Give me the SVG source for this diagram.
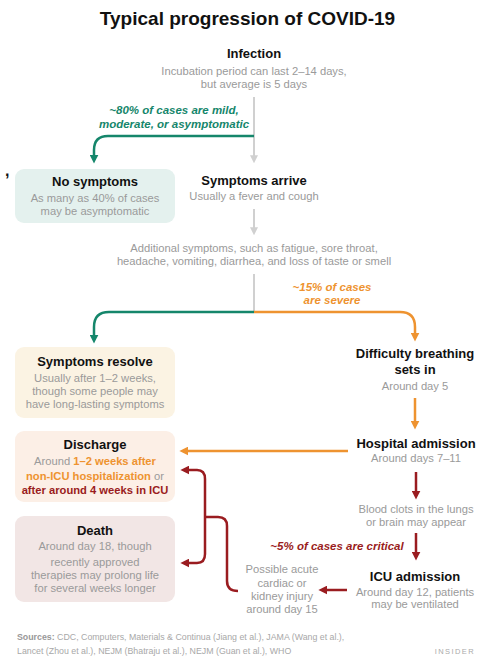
<svg xmlns="http://www.w3.org/2000/svg" width="477" height="656" viewBox="0 0 477 656">
<style>
text{font-family:"Liberation Sans",Arial,sans-serif}
.t{font-size:19px;font-weight:bold;fill:#111;text-anchor:middle}
.h{font-size:13px;font-weight:bold;fill:#111;text-anchor:middle}
.s{font-size:11.2px;fill:#9a9a9a;text-anchor:middle}
.lab{font-size:11.5px;font-weight:bold;font-style:italic;text-anchor:middle}
.src{font-size:8.8px;fill:#a8a8a8}
.g{fill:#15866b}.o{fill:#ee9330}.r{fill:#9a1c20}
.ln{fill:none;stroke-width:2.5}
.gy{stroke:#d0d0d0;stroke-width:2}
.gs{stroke:#15866b}.os{stroke:#ee9330}.rs{stroke:#9a1c20}
</style>
<defs>
<marker id="ag" viewBox="0 0 10 10" refX="6" refY="5" markerWidth="9" markerHeight="9" markerUnits="userSpaceOnUse" orient="auto"><path d="M0,0 L10,5 L0,10 z" fill="#15866b"/></marker>
<marker id="ao" viewBox="0 0 10 10" refX="6" refY="5" markerWidth="9" markerHeight="9" markerUnits="userSpaceOnUse" orient="auto"><path d="M0,0 L10,5 L0,10 z" fill="#ee9330"/></marker>
<marker id="ar" viewBox="0 0 10 10" refX="6" refY="5" markerWidth="9" markerHeight="9" markerUnits="userSpaceOnUse" orient="auto"><path d="M0,0 L10,5 L0,10 z" fill="#9a1c20"/></marker>
<marker id="ay" viewBox="0 0 10 10" refX="6" refY="5" markerWidth="8" markerHeight="8" markerUnits="userSpaceOnUse" orient="auto"><path d="M0,0 L10,5 L0,10 z" fill="#d0d0d0"/></marker>
</defs>

<text class="t" x="247.5" y="25">Typical progression of COVID-19</text>
<text x="5" y="176" style="font-size:16px;font-weight:bold;fill:#111">,</text>

<g id="connectors">
<path class="ln gy" d="M254 97 V160" marker-end="url(#ay)"/>
<path class="ln gs" d="M254 136 H108 Q94 136 94 150 V160" marker-end="url(#ag)"/>
<path class="ln gy" d="M254 209 V232" marker-end="url(#ay)"/>
<path class="ln gy" d="M254 274 V312"/>
<path class="ln gs" d="M254 312 H109 Q94 312 94 327 V340" marker-end="url(#ag)"/>
<path class="ln os" d="M254 312 H400 Q415 312 415 327 V338" marker-end="url(#ao)"/>
<path class="ln os" d="M415 398 V426" marker-end="url(#ao)"/>
<path class="ln os" d="M348 451 H183" marker-end="url(#ao)"/>
<path class="ln rs" d="M416 472 V496" marker-end="url(#ar)"/>
<path class="ln rs" d="M416 533 V557" marker-end="url(#ar)"/>
<path class="ln rs" d="M347 590 H322" marker-end="url(#ar)"/>
<path class="ln rs" d="M197 470 Q205 470 205 479 V554 Q205 563 197 563 H184" marker-end="url(#ar)"/>
<path class="ln rs" d="M197 470 H184" marker-end="url(#ar)"/>
<path class="ln rs" d="M205 517 H218 Q227 517 227 526 V581 Q227 591 238 591"/>
</g>

<g id="infection">
<text class="h" x="254" y="58">Infection</text>
<text class="s" x="254" y="75">Incubation period can last 2–14 days,</text>
<text class="s" x="254" y="88">but average is 5 days</text>
</g>

<g id="label-80">
<text class="lab g" x="174" y="114">~80% of cases are mild,</text>
<text class="lab g" x="174" y="128">moderate, or asymptomatic</text>
</g>

<g id="no-symptoms">
<rect x="15" y="169" width="160" height="54" rx="9" fill="#e4f1ee"/>
<text class="h" x="95" y="186">No symptoms</text>
<text class="s" x="95" y="202">As many as 40% of cases</text>
<text class="s" x="95" y="215">may be asymptomatic</text>
</g>

<g id="symptoms-arrive">
<text class="h" x="254" y="185">Symptoms arrive</text>
<text class="s" x="254" y="200">Usually a fever and cough</text>
</g>

<g id="additional">
<text class="s" x="254" y="252">Additional symptoms, such as fatigue, sore throat,</text>
<text class="s" x="254" y="265">headache, vomiting, diarrhea, and loss of taste or smell</text>
</g>

<g id="label-15">
<text class="lab o" x="332" y="291">~15% of cases</text>
<text class="lab o" x="332" y="304">are severe</text>
</g>

<g id="symptoms-resolve">
<rect x="15" y="347" width="160" height="71" rx="9" fill="#fbf3e3"/>
<text class="h" x="95" y="366">Symptoms resolve</text>
<text class="s" x="95" y="382">Usually after 1–2 weeks,</text>
<text class="s" x="95" y="395">though some people may</text>
<text class="s" x="95" y="408">have long-lasting symptoms</text>
</g>

<g id="difficulty-breathing">
<text class="h" x="415" y="358">Difficulty breathing</text>
<text class="h" x="415" y="374">sets in</text>
<text class="s" x="415" y="390">Around day 5</text>
</g>

<g id="hospital-admission">
<text class="h" x="416" y="448">Hospital admission</text>
<text class="s" x="416" y="462">Around days 7–11</text>
</g>

<g id="discharge">
<rect x="15" y="431" width="160" height="71" rx="9" fill="#fcefe6"/>
<text class="h" x="95" y="449">Discharge</text>
<text class="s" x="95" y="465">Around <tspan class="o" font-weight="bold">1–2 weeks after</tspan></text>
<text class="s" x="95" y="480"><tspan class="o" font-weight="bold">non-ICU hospitalization</tspan> or</text>
<text class="s r" x="95" y="494" font-weight="bold">after around 4 weeks in ICU</text>
</g>

<g id="blood-clots">
<text class="s" x="416" y="513">Blood clots in the lungs</text>
<text class="s" x="416" y="526">or brain may appear</text>
</g>

<g id="label-5">
<text class="lab r" x="337" y="550">~5% of cases are critical</text>
</g>

<g id="death">
<rect x="15" y="516" width="160" height="86" rx="9" fill="#f2e6e5"/>
<text class="h" x="95" y="535">Death</text>
<text class="s" x="95" y="550">Around day 18, though</text>
<text class="s" x="95" y="566">recently approved</text>
<text class="s" x="95" y="579">therapies may prolong life</text>
<text class="s" x="95" y="592">for several weeks longer</text>
</g>

<g id="icu-admission">
<text class="h" x="415" y="581">ICU admission</text>
<text class="s" x="415" y="596">Around day 12, patients</text>
<text class="s" x="415" y="608">may be ventilated</text>
</g>

<g id="cardiac">
<text class="s" x="282" y="573">Possible acute</text>
<text class="s" x="282" y="587">cardiac or</text>
<text class="s" x="282" y="600">kidney injury</text>
<text class="s" x="282" y="613">around day 15</text>
</g>

<g id="footer">
<text class="src" x="17" y="640"><tspan font-weight="bold" fill="#999">Sources:</tspan> CDC, Computers, Materials &amp; Continua (Jiang et al.), JAMA (Wang et al.),</text>
<text class="src" x="17" y="654">Lancet (Zhou et al.), NEJM (Bhatraju et al.), NEJM (Guan et al.), WHO</text>
<text x="475" y="654" style="font-size:7.5px;fill:#aaa;letter-spacing:1.4px;text-anchor:end">INSIDER</text>
</g>
</svg>
